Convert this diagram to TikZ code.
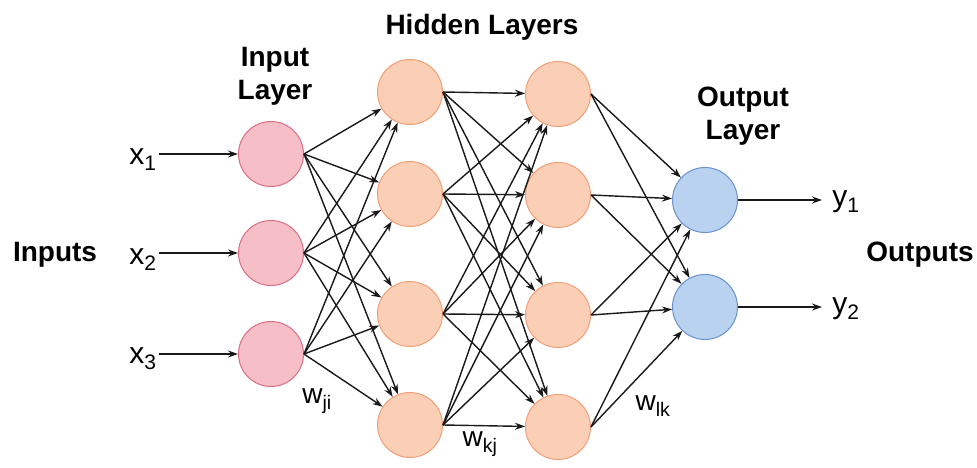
\documentclass[tikz,border=0pt]{standalone}
\usepackage{fontspec}
\setmainfont{Liberation Sans}
\usetikzlibrary{arrows.meta}
\definecolor{infill}{RGB}{246,190,198}
\definecolor{indraw}{RGB}{218,110,132}
\definecolor{hidfill}{RGB}{250,207,182}
\definecolor{hiddraw}{RGB}{242,158,118}
\definecolor{outfill}{RGB}{184,210,240}
\definecolor{outdraw}{RGB}{105,145,205}
\tikzset{
  neuron/.style={circle, minimum size=65pt, inner sep=0pt, line width=1pt},
  inneuron/.style={neuron, fill=infill, draw=indraw},
  hidneuron/.style={neuron, fill=hidfill, draw=hiddraw},
  outneuron/.style={neuron, fill=outfill, draw=outdraw},
  conn/.style={line width=1.4pt, black!90, -{Stealth[length=10pt,width=7pt]}},
  title/.style={font=\bfseries\fontsize{28}{33}\selectfont, align=center},
  var/.style={font=\fontsize{30}{32}\selectfont},
  wlab/.style={font=\fontsize{28}{30}\selectfont}
}
\begin{document}
\begin{tikzpicture}[x=1pt,y=-1pt]
\useasboundingbox (0,0) rectangle (977,468);
% nodes
\node[inneuron] (i1) at (271,154) {};
\node[inneuron] (i2) at (271,253) {};
\node[inneuron] (i3) at (271,354) {};
\node[hidneuron] (h1) at (410,92) {};
\node[hidneuron] (h2) at (410,194) {};
\node[hidneuron] (h3) at (410,314) {};
\node[hidneuron] (h4) at (410,425) {};
\node[hidneuron] (g1) at (558,94) {};
\node[hidneuron] (g2) at (558,195) {};
\node[hidneuron] (g3) at (558,315) {};
\node[hidneuron] (g4) at (558,427) {};
\node[outneuron] (o1) at (705,200) {};
\node[outneuron] (o2) at (705,307) {};
% labels
\node[var] (x1) at (143,160) {x\textsubscript{1}};
\node[var] (x2) at (143,260) {x\textsubscript{2}};
\node[var] (x3) at (143,359) {x\textsubscript{3}};
\coordinate (x1s) at (159,154);
\coordinate (x2s) at (159,253);
\coordinate (x3s) at (159,354);
\node[var] (y1) at (846,202) {y\textsubscript{1}};
\node[var] (y2) at (846,309) {y\textsubscript{2}};
\coordinate (y1s) at (822,200);
\coordinate (y2s) at (822,307);
\node[title] (inputs) at (55,255) {Inputs};
\node[title] (outputs) at (920,255) {Outputs};
\node[title] (inlayer) at (275,76) {Input\\Layer};
\node[title] (hidlayer) at (482,27) {Hidden Layers};
\node[title] (outlayer) at (743,116) {Output\\Layer};
\node[wlab] (wji) at (317,401) {w\textsubscript{ji}};
\node[wlab] (wkj) at (480,444) {w\textsubscript{kj}};
\node[wlab] (wlk) at (653,406) {w\textsubscript{lk}};
% input arrows
\draw[conn] (x1s) -- (i1.west);
\draw[conn] (x2s) -- (i2.west);
\draw[conn] (x3s) -- (i3.west);
% connections
\foreach \a in {i1,i2,i3}
  \foreach \b in {h1,h2,h3,h4}
    \draw[conn] (\a.east) -- (\b);
\foreach \a in {h1,h2,h3,h4}
  \foreach \b in {g1,g2,g3,g4}
    \draw[conn] (\a.east) -- (\b);
\foreach \a in {g1,g2,g3,g4}
  \foreach \b in {o1,o2}
    \draw[conn] (\a.east) -- (\b);
\draw[conn] (o1.east) -- (y1s);
\draw[conn] (o2.east) -- (y2s);
\end{tikzpicture}
\end{document}
